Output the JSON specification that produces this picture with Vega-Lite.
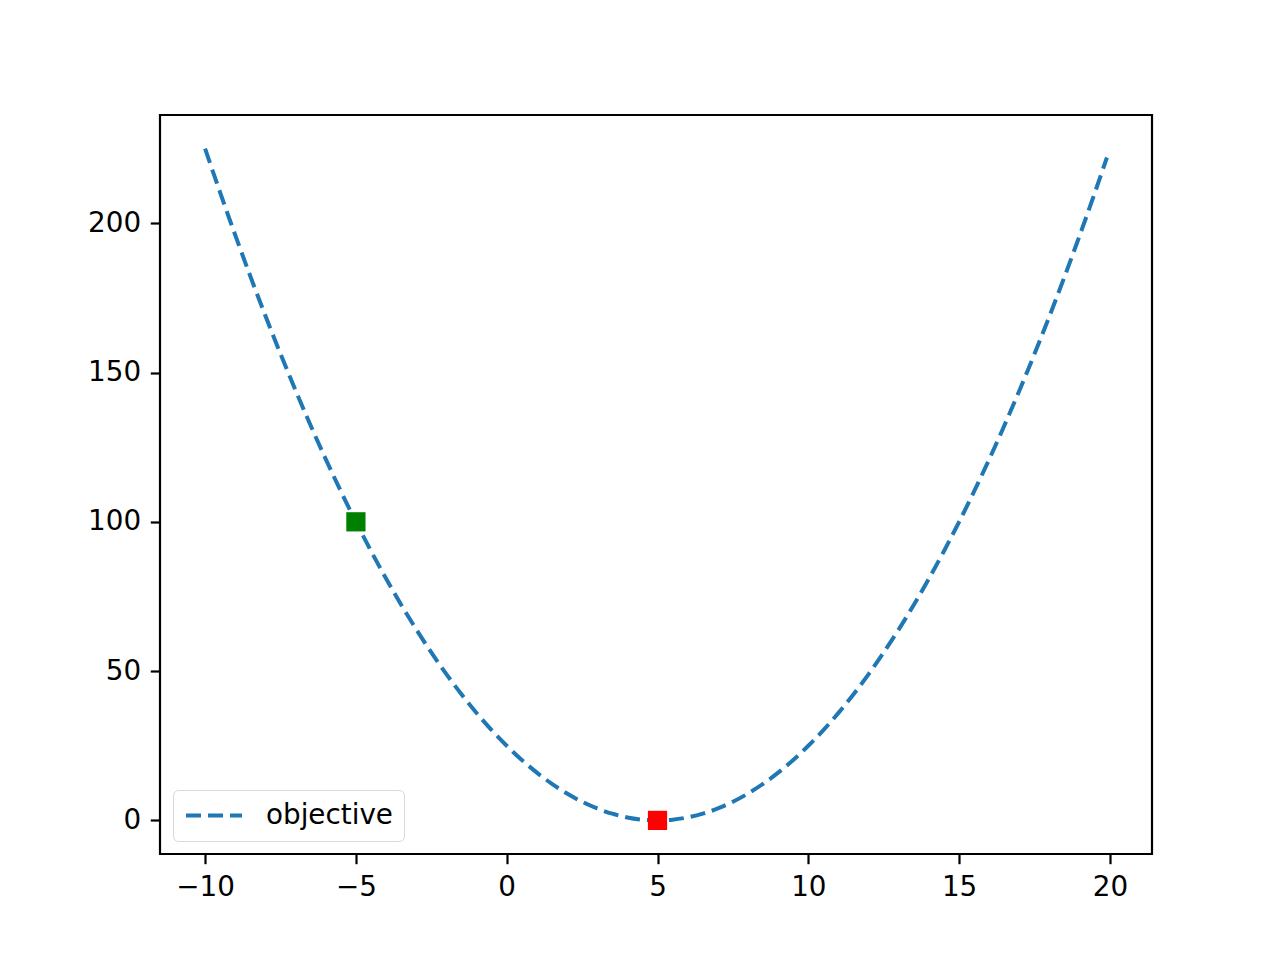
{
  "$schema": "https://vega.github.io/schema/vega-lite/v6.json",
  "width": 992,
  "height": 739,
  "autosize": "none",
  "padding": {"left": 160, "top": 115, "right": 128, "bottom": 106},
  "background": "white",
  "config": {
    "view": {"stroke": "black", "strokeWidth": 2.2},
    "axis": {
      "grid": false,
      "domain": false,
      "labelFont": "DejaVu Sans",
      "labelFontSize": 27.8,
      "labelColor": "black",
      "tickColor": "black",
      "tickWidth": 2.2,
      "tickSize": 9.7,
      "labelPadding": 9.7,
      "title": null
    }
  },
  "layer": [
    {
      "data": {"values": [
        {"x": -10, "y": 225, "series": "objective"},
        {"x": -9.5, "y": 210.25, "series": "objective"},
        {"x": -9, "y": 196, "series": "objective"},
        {"x": -8.5, "y": 182.25, "series": "objective"},
        {"x": -8, "y": 169, "series": "objective"},
        {"x": -7.5, "y": 156.25, "series": "objective"},
        {"x": -7, "y": 144, "series": "objective"},
        {"x": -6.5, "y": 132.25, "series": "objective"},
        {"x": -6, "y": 121, "series": "objective"},
        {"x": -5.5, "y": 110.25, "series": "objective"},
        {"x": -5, "y": 100, "series": "objective"},
        {"x": -4.5, "y": 90.25, "series": "objective"},
        {"x": -4, "y": 81, "series": "objective"},
        {"x": -3.5, "y": 72.25, "series": "objective"},
        {"x": -3, "y": 64, "series": "objective"},
        {"x": -2.5, "y": 56.25, "series": "objective"},
        {"x": -2, "y": 49, "series": "objective"},
        {"x": -1.5, "y": 42.25, "series": "objective"},
        {"x": -1, "y": 36, "series": "objective"},
        {"x": -0.5, "y": 30.25, "series": "objective"},
        {"x": 0, "y": 25, "series": "objective"},
        {"x": 0.5, "y": 20.25, "series": "objective"},
        {"x": 1, "y": 16, "series": "objective"},
        {"x": 1.5, "y": 12.25, "series": "objective"},
        {"x": 2, "y": 9, "series": "objective"},
        {"x": 2.5, "y": 6.25, "series": "objective"},
        {"x": 3, "y": 4, "series": "objective"},
        {"x": 3.5, "y": 2.25, "series": "objective"},
        {"x": 4, "y": 1, "series": "objective"},
        {"x": 4.5, "y": 0.25, "series": "objective"},
        {"x": 5, "y": 0, "series": "objective"},
        {"x": 5.5, "y": 0.25, "series": "objective"},
        {"x": 6, "y": 1, "series": "objective"},
        {"x": 6.5, "y": 2.25, "series": "objective"},
        {"x": 7, "y": 4, "series": "objective"},
        {"x": 7.5, "y": 6.25, "series": "objective"},
        {"x": 8, "y": 9, "series": "objective"},
        {"x": 8.5, "y": 12.25, "series": "objective"},
        {"x": 9, "y": 16, "series": "objective"},
        {"x": 9.5, "y": 20.25, "series": "objective"},
        {"x": 10, "y": 25, "series": "objective"},
        {"x": 10.5, "y": 30.25, "series": "objective"},
        {"x": 11, "y": 36, "series": "objective"},
        {"x": 11.5, "y": 42.25, "series": "objective"},
        {"x": 12, "y": 49, "series": "objective"},
        {"x": 12.5, "y": 56.25, "series": "objective"},
        {"x": 13, "y": 64, "series": "objective"},
        {"x": 13.5, "y": 72.25, "series": "objective"},
        {"x": 14, "y": 81, "series": "objective"},
        {"x": 14.5, "y": 90.25, "series": "objective"},
        {"x": 15, "y": 100, "series": "objective"},
        {"x": 15.5, "y": 110.25, "series": "objective"},
        {"x": 16, "y": 121, "series": "objective"},
        {"x": 16.5, "y": 132.25, "series": "objective"},
        {"x": 17, "y": 144, "series": "objective"},
        {"x": 17.5, "y": 156.25, "series": "objective"},
        {"x": 18, "y": 169, "series": "objective"},
        {"x": 18.5, "y": 182.25, "series": "objective"},
        {"x": 19, "y": 196, "series": "objective"},
        {"x": 19.5, "y": 210.25, "series": "objective"},
        {"x": 19.9, "y": 222.01, "series": "objective"}
      ]},
      "mark": {"type": "line", "strokeWidth": 4, "strokeDash": [15, 7], "interpolate": "monotone", "clip": true},
      "encoding": {
        "x": {"field": "x", "type": "quantitative",
              "scale": {"domain": [-11.495, 21.395], "nice": false, "zero": false},
              "axis": {"values": [-10, -5, 0, 5, 10, 15, 20]}},
        "y": {"field": "y", "type": "quantitative",
              "scale": {"domain": [-11.25, 236.25], "nice": false, "zero": false},
              "axis": {"values": [0, 50, 100, 150, 200]}},
        "color": {"field": "series", "type": "nominal",
                  "scale": {"domain": ["objective"], "range": ["#1f77b4"]},
                  "legend": {
                    "title": null,
                    "orient": "bottom-left",
                    "offset": 13,
                    "symbolType": "stroke",
                    "symbolSize": 3136,
                    "symbolStrokeWidth": 4,
                    "symbolDash": [15, 7],
                    "labelFont": "DejaVu Sans",
                    "labelFontSize": 27.8,
                    "labelColor": "black",
                    "labelOffset": 22,
                    "clipHeight": 29,
                    "strokeColor": "#d9d9d9",
                    "fillColor": "white",
                    "cornerRadius": 5,
                    "padding": 11
                  }}
      }
    },
    {
      "data": {"values": [{"x": -5, "y": 100}]},
      "mark": {"type": "point", "shape": "square", "filled": true, "color": "green", "size": 370, "opacity": 1},
      "encoding": {
        "x": {"field": "x", "type": "quantitative"},
        "y": {"field": "y", "type": "quantitative"}
      }
    },
    {
      "data": {"values": [{"x": 5, "y": 0}]},
      "mark": {"type": "point", "shape": "square", "filled": true, "color": "red", "size": 370, "opacity": 1},
      "encoding": {
        "x": {"field": "x", "type": "quantitative"},
        "y": {"field": "y", "type": "quantitative"}
      }
    }
  ]
}
